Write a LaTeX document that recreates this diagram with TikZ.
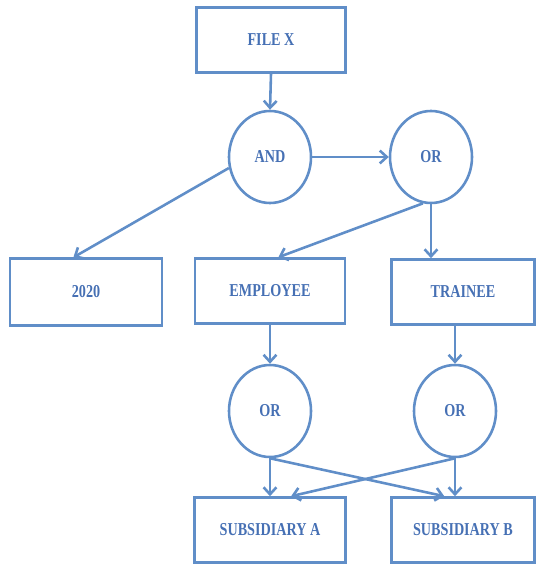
\documentclass[tikz,border=0pt]{standalone}
\usepackage{fontspec}
\newfontfamily\boxfont[FakeStretch=0.78]{Liberation Serif}
\usetikzlibrary{shapes.geometric,arrows.meta}
\definecolor{lineblue}{RGB}{96,142,200}
\definecolor{textblue}{RGB}{70,112,180}
\tikzset{
  boxnode/.style={rectangle, draw=lineblue, line width=2.2pt, minimum width=4.5cm, minimum height=1.95cm,
    text=textblue, font=\boxfont\bfseries\fontsize{15.5}{17}\selectfont},
  gatenode/.style={ellipse, draw=lineblue, line width=2.2pt, minimum width=2.46cm, minimum height=2.76cm,
    inner sep=0pt, text=textblue, font=\boxfont\bfseries\fontsize{15.5}{17}\selectfont},
  link/.style={draw=lineblue, line width=2.2pt, -{Straight Barb[length=6pt,width=11pt]}}
}
\begin{document}
\begin{tikzpicture}[x=0.03cm, y=-0.03cm]
  \useasboundingbox (0,0) rectangle (539,569);
  %%% top part
  \node[boxnode, minimum width=4.47cm] (filex) at (271,40) {FILE X};
  \node[gatenode] (and) at (270,157) {AND};
  \node[gatenode] (ortop) at (431,157) {OR};
  %%% middle row
  \node[boxnode, minimum width=4.56cm, minimum height=2cm] (y2020) at (86,292) {2020};
  \node[boxnode] (employee) at (270,291) {EMPLOYEE};
  \node[boxnode, minimum width=4.29cm] (trainee) at (463,292) {TRAINEE};
  \node[gatenode] (orleft) at (270,411) {OR};
  \node[gatenode] (orright) at (455,411) {OR};
  %%% bottom row
  \node[boxnode, minimum width=4.53cm] (suba) at (270,530) {SUBSIDIARY A};
  \node[boxnode, minimum width=4.29cm] (subb) at (463,530) {SUBSIDIARY B};
  %%% arrows
  \draw[link] (filex.south) -- (and.north);
  \draw[link] (and.east) -- (ortop.west);
  \draw[link] (and.195) -- (y2020.110);
  \draw[link] (ortop.260) -- (employee.76);
  \draw[link] (ortop.south) -- (ortop.south |- trainee.north);
  \draw[link] (employee.south) -- (orleft.north);
  \draw[link] (orright.north |- trainee.south) -- (orright.north);
  \draw[link] (orleft.south) -- (orleft.south |- suba.north);
  \draw[link] (orleft.south) -- (subb.119);
  \draw[link] (orright.south) -- (suba.58);
  \draw[link] (orright.south) -- (orright.south |- subb.north);
\end{tikzpicture}
\end{document}
